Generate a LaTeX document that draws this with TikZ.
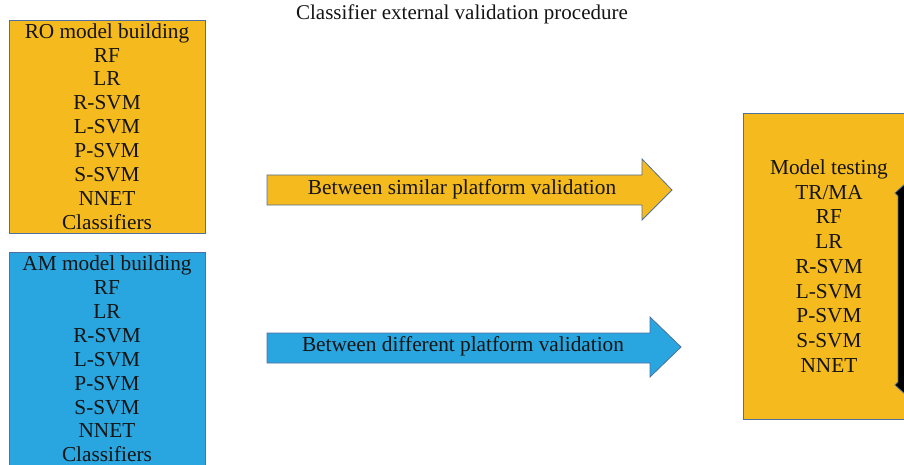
\documentclass[tikz,border=0pt]{standalone}
\usepackage{fontspec}
\setmainfont{Liberation Serif}
\definecolor{ored}{RGB}{245,186,30}
\definecolor{bblue}{RGB}{41,166,223}
\definecolor{edgeb}{RGB}{79,112,160}
\definecolor{txt}{RGB}{20,20,20}
\begin{document}
\begin{tikzpicture}[x=1pt,y=-1pt,
  box/.style={draw=edgeb,line width=0.8pt,rectangle,inner sep=0pt,align=center,text=txt},
  blk/.style={draw=edgeb,line width=0.8pt},
  lbl/.style={text=txt,inner sep=0pt}]
\useasboundingbox (0,0) rectangle (904,465);
\clip (0,0) rectangle (904,465);
\node[lbl,font=\fontsize{21}{24}\selectfont] (title) at (462,14) {Classifier external validation procedure};
% left boxes
\node[box,fill=ored,minimum width=196pt,minimum height=213pt,font=\fontsize{21.3}{23.9}\selectfont] (ro) at (107,126.5)
 {RO model building\\RF\\LR\\R-SVM\\L-SVM\\P-SVM\\S-SVM\\NNET\\Classifiers};
\node[box,fill=bblue,minimum width=196pt,minimum height=214pt,font=\fontsize{21.3}{23.9}\selectfont] (am) at (107,359)
 {AM model building\\RF\\LR\\R-SVM\\L-SVM\\P-SVM\\S-SVM\\NNET\\Classifiers};
% right box
\node[box,fill=ored,minimum width=172pt,minimum height=306pt,font=\fontsize{21.3}{24.75}\selectfont] (mt) at (829,266)
 {Model testing\\TR/MA\\RF\\LR\\R-SVM\\L-SVM\\P-SVM\\S-SVM\\NNET};
% block arrows
\draw[blk,fill=ored] (267,175) -- (642,175) -- (642,159) -- (672,190) -- (642,220) -- (642,205) -- (267,205) -- cycle;
\node[lbl,font=\fontsize{21.3}{24}\selectfont] (a1) at (462,189) {Between similar platform validation};
\draw[blk,fill=bblue] (267,333) -- (650,333) -- (650,317) -- (681,347) -- (650,377) -- (650,363) -- (267,363) -- cycle;
\node[lbl,font=\fontsize{21.3}{24}\selectfont] (a2) at (463,346) {Between different platform validation};
% clipped double arrow at right edge
\draw[blk,fill=black] (906,183) -- (895,193) -- (898,196) -- (898,382) -- (895,385) -- (906,395) -- cycle;
\end{tikzpicture}
\end{document}
